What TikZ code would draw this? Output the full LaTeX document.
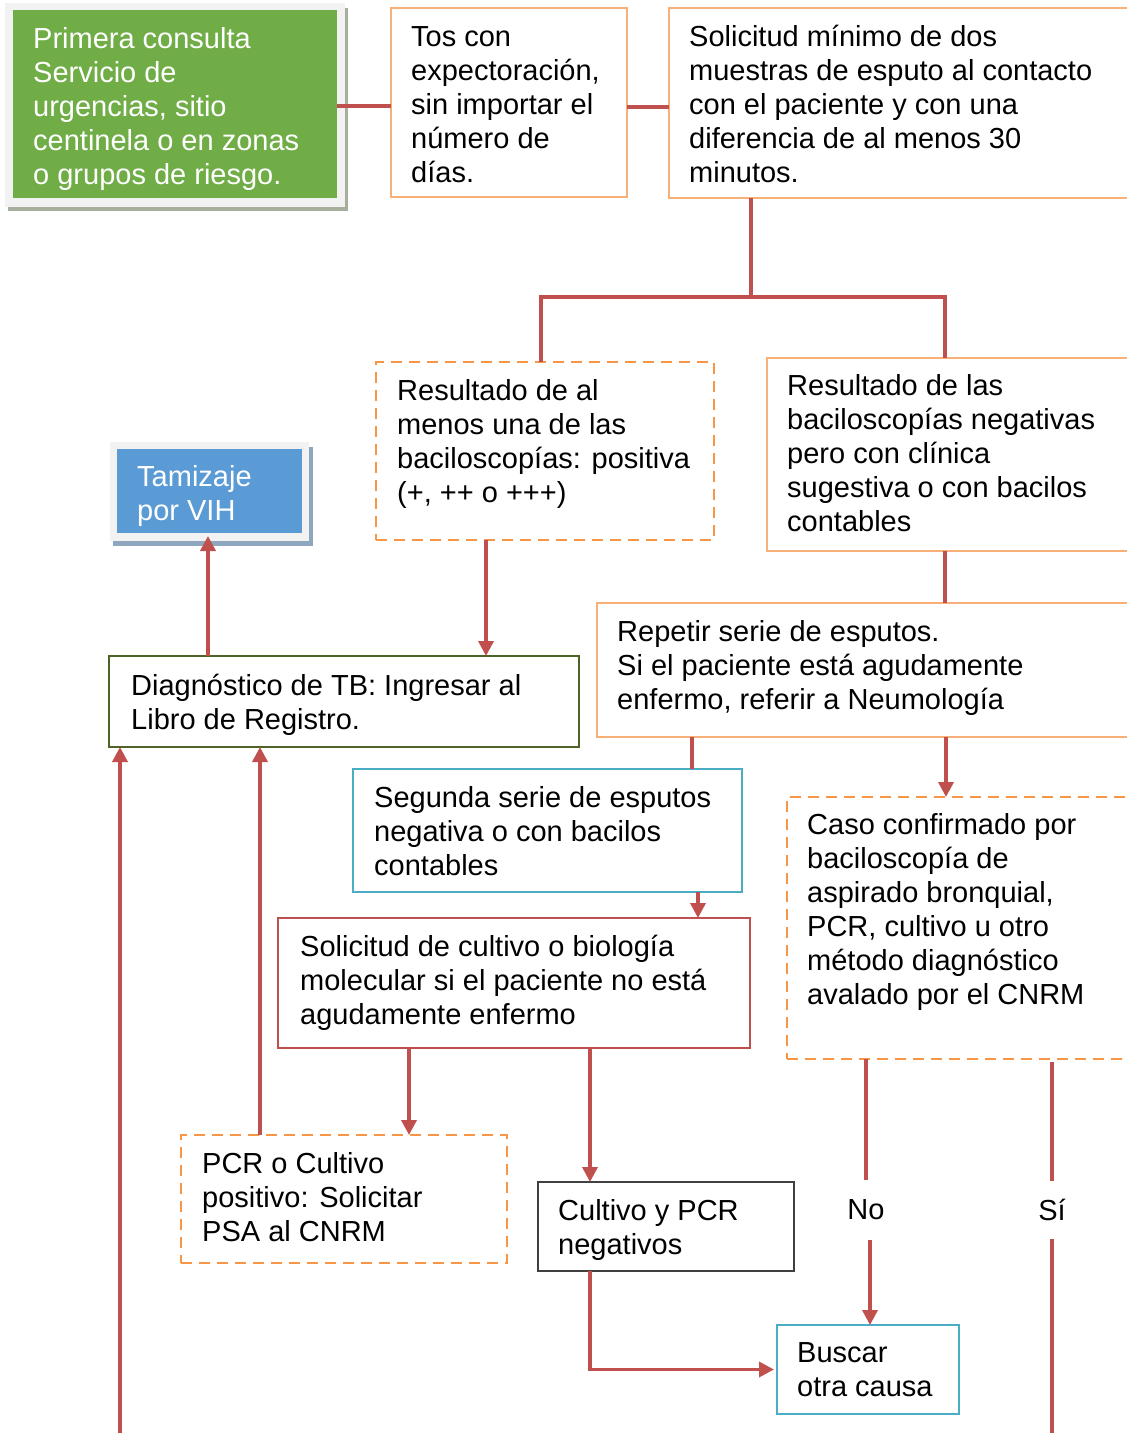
\documentclass[tikz,border=0pt]{standalone}
\usepackage{fontspec}
\setmainfont{Liberation Sans}
\usetikzlibrary{arrows.meta}
\definecolor{cred}{RGB}{192,80,77}
\definecolor{corange}{RGB}{247,150,70}
\definecolor{clorange}{RGB}{246,176,120}
\definecolor{cgreen}{RGB}{112,173,71}
\definecolor{cgshadow}{RGB}{165,175,155}
\definecolor{cframe}{RGB}{242,242,242}
\definecolor{cblue}{RGB}{91,155,213}
\definecolor{cbshadow}{RGB}{142,166,190}
\definecolor{colive}{RGB}{79,98,40}
\definecolor{cteal}{RGB}{75,172,198}
\definecolor{cdark}{RGB}{64,64,64}
\tikzset{
  boxbase/.style={rectangle, inner sep=0pt, outer sep=0pt},
  thinorange/.style={boxbase, draw=clorange, line width=1.5pt},
  dashorange/.style={boxbase, draw=corange, line width=2.5pt, dash pattern=on 11pt off 7pt},
  txt/.style={font=\fontsize{29}{34}\selectfont, align=left, inner sep=0pt, anchor=west},
  conn/.style={draw=cred, line width=3.5pt},
  arr/.style={conn, -{Triangle[length=15pt,width=15pt]}},
}
\begin{document}
\begin{tikzpicture}[x=1pt,y=-1pt]
\useasboundingbox (0,0) rectangle (1127,1433);
% green start box with frame and shadow
\node[boxbase, fill=cgshadow, minimum width=340, minimum height=203] (gshadow) at (178,109.5) {};
\node[boxbase, fill=cframe, minimum width=340, minimum height=204] (gframe) at (175,105) {};
\node[boxbase, fill=cgreen, minimum width=324, minimum height=188] (green) at (175,104) {};
\node[txt, text=white] (green-t) at (33,109) {Primera consulta\\Servicio de\\urgencias, sitio\\centinela o en zonas\\o grupos de riesgo.};
% top boxes
\node[thinorange, minimum width=236, minimum height=189] (tos) at (509,102.5) {};
\node[txt] (tos-t) at (411,105) {Tos con\\expectoración,\\sin importar el\\número de\\días.};
\node[thinorange, minimum width=466, minimum height=190] (sol) at (902,103) {};
\node[txt] (sol-t) at (689,104) {Solicitud mínimo de dos\\muestras de esputo al contacto\\con el paciente y con una\\diferencia de al menos 30\\minutos.};
% results
\node[dashorange, minimum width=338, minimum height=178] (res1) at (545,451) {};
\node[txt] (res1-t) at (397,444) {Resultado de al\\menos una de las\\baciloscopías: positiva\\(+, ++ o +++)};
\node[thinorange, minimum width=368, minimum height=193] (res2) at (951,454.5) {};
\node[txt] (res2-t) at (787,453) {Resultado de las\\baciloscopías negativas\\pero con clínica\\sugestiva o con bacilos\\contables};
% Tamizaje
\node[boxbase, fill=cbshadow, minimum width=200, minimum height=99] (tshadow) at (213,496.5) {};
\node[boxbase, fill=cframe, minimum width=199, minimum height=99] (tframe) at (209.5,491.5) {};
\node[boxbase, fill=cblue, minimum width=185, minimum height=84] (tam) at (209.5,491) {};
\node[txt, text=white] (tam-t) at (137,496) {Tamizaje\\por VIH};
% Diagnostico
\node[boxbase, draw=colive, line width=2.5pt, minimum width=470, minimum height=91] (diag) at (344,701.5) {};
\node[txt] (diag-t) at (131,705) {Diagnóstico de TB: Ingresar al\\Libro de Registro.};
% Repetir
\node[thinorange, minimum width=538, minimum height=134] (rep) at (866,670) {};
\node[txt] (rep-t) at (617,668) {Repetir serie de esputos.\\Si el paciente está agudamente\\enfermo, referir a Neumología};
% Segunda
\node[boxbase, draw=cteal, line width=2.5pt, minimum width=389, minimum height=123] (seg) at (547.5,830.5) {};
\node[txt] (seg-t) at (374,831) {Segunda serie de esputos\\negativa o con bacilos\\contables};
% Solicitud cultivo
\node[boxbase, draw=cred, line width=2.5pt, minimum width=472, minimum height=130] (cult) at (514,983) {};
\node[txt] (cult-t) at (300,983) {Solicitud de cultivo o biología\\molecular si el paciente no está\\agudamente enfermo};
% Caso confirmado
\node[dashorange, minimum width=353, minimum height=262] (caso) at (963.5,928) {};
\node[txt] (caso-t) at (807,912) {Caso confirmado por\\baciloscopía de\\aspirado bronquial,\\PCR, cultivo u otro\\método diagnóstico\\avalado por el CNRM};
% PCR positivo
\node[dashorange, minimum width=326, minimum height=128] (pcr) at (344,1199) {};
\node[txt] (pcr-t) at (202,1197) {PCR o Cultivo\\positivo: Solicitar\\PSA al CNRM};
% Cultivo y PCR negativos
\node[boxbase, draw=cdark, line width=1.5pt, minimum width=256, minimum height=89] (neg) at (666,1226.5) {};
\node[txt] (neg-t) at (558,1230) {Cultivo y PCR\\negativos};
% Buscar
\node[boxbase, draw=cteal, line width=1.5pt, minimum width=182, minimum height=89] (buscar) at (868,1369.5) {};
\node[txt] (buscar-t) at (797,1370) {Buscar\\otra causa};
% No / Si labels
\node[font=\fontsize{29}{34}\selectfont, inner sep=0pt, minimum height=60] (no) at (866,1210) {No};
\node[font=\fontsize{29}{34}\selectfont, inner sep=0pt, minimum height=58] (si) at (1052,1210) {Sí};
% helper coordinates
\coordinate (h1) at (0,106);
\coordinate (h2) at (0,107);
\coordinate (jT) at (751,297);
\coordinate (jL) at (541,297);
\coordinate (jR) at (945,297);
\coordinate (xA) at (486,0);
\coordinate (xT) at (208,0);
\coordinate (xS) at (692,0);
\coordinate (xC) at (946,0);
\coordinate (xG) at (698,0);
\coordinate (xP) at (409,0);
\coordinate (xN) at (590,0);
\coordinate (xD) at (260,0);
\coordinate (xB) at (870,0);
\coordinate (bot) at (120,1440);
\coordinate (sibot) at (1052,1440);
% connectors
\draw[conn] (green.east |- h1) -- (tos.west |- h1);
\draw[conn] (tos.east |- h2) -- (sol.west |- h2);
\draw[conn] (sol.south -| jT) -- (jT);
\draw[conn] (res1.north -| jL) -- (jL) -- (jR) -- (res2.north -| jR);
\draw[conn] (res2.south -| jR) -- (rep.north -| jR);
\draw[arr] (res1.south -| xA) -- (diag.north -| xA);
\draw[arr, shorten >=-5pt] (diag.north -| xT) -- (tframe.south -| xT);
\draw[conn] (rep.south -| xS) -- (seg.north -| xS);
\draw[arr] (rep.south -| xC) -- (caso.north -| xC);
\draw[arr] (seg.south -| xG) -- (cult.north -| xG);
\draw[arr] (cult.south -| xP) -- (pcr.north -| xP);
\draw[arr] (cult.south -| xN) -- (neg.north -| xN);
\draw[arr] (pcr.north -| xD) -- (diag.south -| xD);
\draw[arr] (bot) -- (diag.south -| bot);
\draw[conn] (caso.south -| no.north) -- (no.north);
\draw[arr] (no.south -| xB) -- (buscar.north -| xB);
\draw[conn] ([yshift=-3pt]caso.south -| si.north) -- (si.north);
\draw[conn] (si.south) -- (sibot);
\draw[arr, shorten >=3pt] (neg.south -| xN) -- (xN |- buscar.west) -- (buscar.west);
\end{tikzpicture}
\end{document}
